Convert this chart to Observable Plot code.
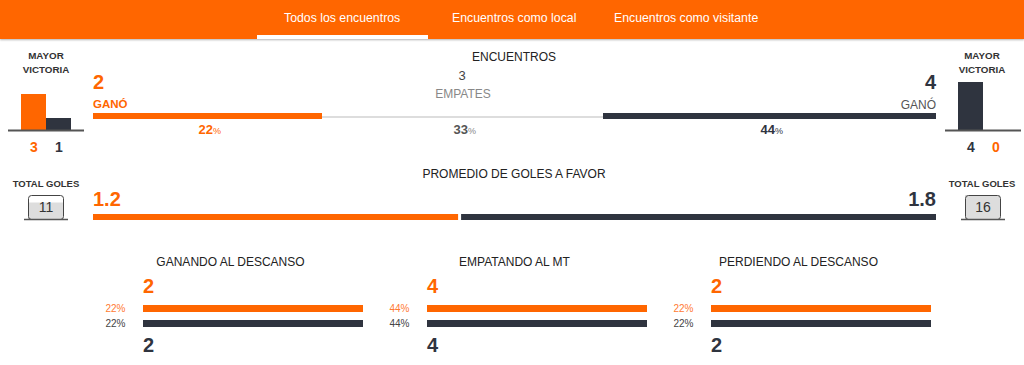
<!DOCTYPE html>
<html>
<head>
<meta charset="utf-8">
<script src="https://cdn.jsdelivr.net/npm/d3@7"></script>
<script src="https://cdn.jsdelivr.net/npm/@observablehq/plot@0.6"></script>
<style>
  html, body { margin: 0; padding: 0; background: #fff; }
  body { width: 1024px; height: 365px; position: relative; overflow: hidden;
         font-family: "Liberation Sans", Arial, Helvetica, sans-serif; }
  #header { position: absolute; left: 0; top: 0; width: 1024px; height: 39px; background: #ff6600;
            box-shadow: 0 1px 2px rgba(0,0,0,0.3); }
  #tabline { position: absolute; left: 257px; top: 35px; width: 171px; height: 4px; background: #fff; }
</style>
</head>
<body>
<div id="header"><div id="tabline"></div></div>
<script>
// ---------------- data ----------------
const teams = ["home", "away"];
const tabs = ["Todos los encuentros", "Encuentros como local", "Encuentros como visitante"];
const resultLabels = ["GANÓ", "EMPATES", "GANÓ"];
const resultCounts = [2, 3, 4];          // home wins, draws, away wins
const resultPct = [22, 33, 44];
const biggestWinHome = [3, 1];           // home goals, away goals
const biggestWinAway = [4, 0];           // away goals, home goals
const totalGoals = [11, 16];             // home, away
const avgGoals = [1.2, 1.8];             // home, away
const halfTimeStates = ["GANANDO AL DESCANSO", "EMPATANDO AL MT", "PERDIENDO AL DESCANSO"];
const halfTimeHome = [2, 4, 2];
const halfTimeAway = [2, 4, 2];
const halfTimeHomePct = [22, 44, 22];
const halfTimeAwayPct = [22, 44, 22];

// ---------------- styles ----------------
const ORANGE = "#ff6600", DARK = "#2f343f";
const FONT = '"Liberation Sans", Arial, Helvetica, sans-serif';
const teamColor = {home: ORANGE, away: DARK};
const baseStyle = {background: "transparent", fontFamily: FONT, overflow: "visible"};

function txt(text, x, yc, o = {}) {
  const fs = o.fs || 12;
  const d = document.createElement("div");
  d.textContent = text;
  Object.assign(d.style, {
    position: "absolute", left: x + "px", top: (yc - 0.49 * fs) + "px",
    fontSize: fs + "px", lineHeight: fs + "px", fontWeight: o.w || "normal",
    color: o.color || "#222", whiteSpace: "nowrap", fontFamily: FONT,
    transform: o.anchor === "middle" ? "translateX(-50%)" : o.anchor === "end" ? "translateX(-100%)" : "none"
  });
  (o.parent || document.body).appendChild(d);
  return d;
}
function put(node, left, top) {
  node.style.position = "absolute";
  node.style.left = left + "px";
  node.style.top = top + "px";
  document.body.appendChild(node);
}
// segments with a minimum pixel width each, remainder proportional to values
function segments(values, widthPx, minPx) {
  const T = d3.sum(values), n = values.length;
  const minU = minPx * T / (widthPx - n * minPx);
  let acc = 0;
  const segs = values.map((v, i) => { const x1 = acc; acc += v + minU; return {i, v, x1, x2: acc, mid: (x1 + acc) / 2}; });
  return {segs, domain: [0, acc]};
}

// ---------------- header tabs ----------------
const header = document.getElementById("header");
[284, 452, 614].forEach((x, i) => txt(tabs[i], x, 18, {fs: 12.3, color: "#fff", parent: header}));

// ---------------- MAYOR VICTORIA ----------------
function victoryChart(values, order) {
  const rows = order.map((t, j) => ({team: t, value: values[j]}));
  const maxV = d3.max([...biggestWinHome, ...biggestWinAway]);
  return Plot.plot({
    width: 76, height: 80, marginTop: 6, marginBottom: 26, marginLeft: 13, marginRight: 13,
    style: baseStyle,
    x: {domain: order, axis: null, padding: 0},
    y: {domain: [0, maxV], axis: null},
    color: {type: "identity"},
    marks: [
      Plot.barY(rows, {x: "team", y: "value", fill: d => teamColor[d.team]}),
      Plot.ruleY([0], {stroke: "#555", strokeWidth: 2, insetLeft: -13, insetRight: -13}),
      Plot.text(rows, {x: "team", y: () => 0, text: d => String(d.value), dy: 17, fontSize: 14,
                       fontWeight: "bold", fill: d => teamColor[d.team]})
    ]
  });
}
txt("MAYOR", 46, 56, {fs: 9.8, w: "bold", color: "#333", anchor: "middle"});
txt("VICTORIA", 46, 70, {fs: 9.8, w: "bold", color: "#333", anchor: "middle"});
put(victoryChart(biggestWinHome, ["home", "away"]), 8, 76);
txt("MAYOR", 982, 56, {fs: 9.8, w: "bold", color: "#333", anchor: "middle"});
txt("VICTORIA", 982, 70, {fs: 9.8, w: "bold", color: "#333", anchor: "middle"});
put(victoryChart(biggestWinAway, ["away", "home"]), 945, 76);

// ---------------- ENCUENTROS ----------------
txt("ENCUENTROS", 514, 57, {fs: 12, anchor: "middle"});
txt(String(resultCounts[0]), 93, 81.5, {fs: 20, w: "bold", color: ORANGE});
txt(resultLabels[0], 93, 104.5, {fs: 11.5, w: "bold", color: ORANGE});
txt(String(resultCounts[1]), 462, 75.5, {fs: 13, color: "#444", anchor: "middle"});
txt(resultLabels[1], 463, 94, {fs: 12, color: "#888", anchor: "middle"});
txt(String(resultCounts[2]), 936, 81.5, {fs: 20, w: "bold", color: DARK, anchor: "end"});
txt(resultLabels[2], 936, 105, {fs: 12, color: "#555", anchor: "end"});

const enc = segments(resultCounts, 843, 125);
const encFill = [ORANGE, "#dddddd", DARK];
const encPctFill = [ORANGE, "#555", DARK];
const encPctSign = [ORANGE, "#888", DARK];
put(Plot.plot({
  width: 843, height: 30, marginTop: 5, marginBottom: 19, marginLeft: 0, marginRight: 0,
  style: baseStyle,
  x: {domain: enc.domain, axis: null},
  color: {type: "identity"},
  marks: [
    Plot.barX(enc.segs.filter(d => d.i !== 1), {x1: "x1", x2: "x2", fill: d => encFill[d.i]}),
    Plot.barX(enc.segs.filter(d => d.i === 1), {x1: "x1", x2: "x2", fill: d => encFill[d.i], insetTop: 3, insetBottom: 1}),
    Plot.text(enc.segs, {x: "mid", text: d => String(resultPct[d.i]), textAnchor: "end", lineAnchor: "bottom",
                         dx: 5, dy: 17, fontSize: 13, fontWeight: "bold", fill: d => encPctFill[d.i]}),
    Plot.text(enc.segs, {x: "mid", text: () => "%", textAnchor: "start", lineAnchor: "bottom",
                         dx: 5, dy: 17, fontSize: 9, fill: d => encPctSign[d.i]})
  ]
}), 93, 108);

// ---------------- TOTAL GOLES ----------------
function goalsBox(total) {
  return Plot.plot({
    width: 44, height: 26, marginTop: 1, marginBottom: 1, marginLeft: 4, marginRight: 5,
    style: baseStyle,
    y: {domain: [0, d3.max(totalGoals)], axis: null},
    marks: [
      Plot.barY([total], {y: d => d, fill: "#dddddd"}),
      Plot.frame({stroke: "#444", rx: 3}),
      Plot.ruleY([0], {stroke: "#555", strokeWidth: 1.5, insetLeft: -4, insetRight: -5}),
      Plot.text([total], {text: d => String(d), frameAnchor: "middle", fontSize: 14, fill: "#333"})
    ]
  });
}
txt("TOTAL GOLES", 46, 184, {fs: 9.5, w: "bold", color: "#333", anchor: "middle"});
put(goalsBox(totalGoals[0]), 24, 194);
txt("TOTAL GOLES", 982, 184, {fs: 9.5, w: "bold", color: "#333", anchor: "middle"});
put(goalsBox(totalGoals[1]), 961, 194);

// ---------------- PROMEDIO DE GOLES ----------------
txt("PROMEDIO DE GOLES A FAVOR", 514, 174, {fs: 12, anchor: "middle"});
txt(avgGoals[0].toFixed(1), 93, 198.5, {fs: 20, w: "bold", color: ORANGE});
txt(avgGoals[1].toFixed(1), 936, 198.5, {fs: 20, w: "bold", color: DARK, anchor: "end"});
const avg = segments(totalGoals, 843, 125);
put(Plot.plot({
  width: 843, height: 16, marginTop: 6, marginBottom: 4, marginLeft: 0, marginRight: 0,
  style: baseStyle,
  x: {domain: avg.domain, axis: null},
  marks: [
    Plot.barX([avg.segs[0]], {x1: "x1", x2: "x2", fill: ORANGE, insetRight: 1.5}),
    Plot.barX([avg.segs[1]], {x1: "x1", x2: "x2", fill: DARK, insetLeft: 1.5})
  ]
}), 93, 208);

// ---------------- HALF TIME PANELS ----------------
const panelStart = [143, 427, 711];
const pctColor = {home: "#ff7a33", away: "#444"};
halfTimeStates.forEach((title, i) => {
  const x0 = panelStart[i];
  const rows = [
    {team: "home", value: halfTimeHome[i], pct: halfTimeHomePct[i]},
    {team: "away", value: halfTimeAway[i], pct: halfTimeAwayPct[i]}
  ];
  txt(title, x0 + 87.5, 261.5, {fs: 12, anchor: "middle"});
  txt(String(halfTimeHome[i]), x0, 286, {fs: 20, w: "bold", color: ORANGE});
  put(Plot.plot({
    width: 270, height: 33, marginTop: 1, marginBottom: 2, marginLeft: 50, marginRight: 0,
    style: baseStyle,
    x: {domain: [0, d3.max(rows, d => d.value)], axis: null},
    y: {domain: teams, axis: null, padding: 0},
    color: {type: "identity"},
    marks: [
      Plot.barX(rows, {x: "value", y: "team", fill: d => teamColor[d.team], insetTop: 4, insetBottom: 4}),
      Plot.text(rows, {y: "team", frameAnchor: "left", text: d => d.pct + "%", textAnchor: "end",
                       dx: -18, fontSize: 10, fill: d => pctColor[d.team]})
    ]
  }), x0 - 50, 300);
  txt(String(halfTimeAway[i]), x0, 344.5, {fs: 20, w: "bold", color: DARK});
});
</script>
</body>
</html>
